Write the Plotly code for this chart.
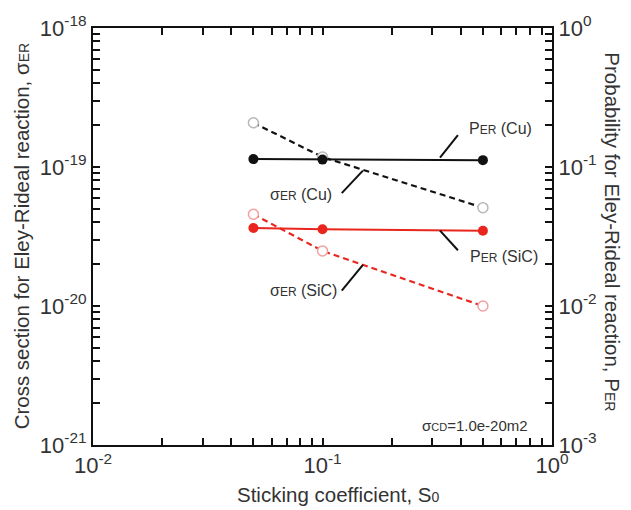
import plotly.graph_objects as go

# Data
s0 = [0.05, 0.1, 0.5]
sigma_cu = [2.08e-19, 1.18e-19, 5.1e-20]
sigma_sic = [4.57e-20, 2.49e-20, 1.0e-20]
p_cu = [0.114, 0.113, 0.112]
p_sic = [0.0364, 0.0357, 0.0348]

x_tickvals = [0.01, 0.1, 1]
x_ticktext = ["10<sup>-2</sup>", "10<sup>-1</sup>", "10<sup>0</sup>"]
y1_tickvals = [1e-21, 1e-20, 1e-19, 1e-18]
y1_ticktext = ["10<sup>-21</sup>", "10<sup>-20</sup>", "10<sup>-19</sup>", "10<sup>-18</sup>"]
y2_tickvals = [1e-3, 1e-2, 1e-1, 1]
y2_ticktext = ["10<sup>-3</sup>", "10<sup>-2</sup>", "10<sup>-1</sup>", "10<sup>0</sup>"]


def with_minor(vals, texts):
    """Major ticks with labels plus unlabelled 2..9 minor ticks in each decade."""
    tv, tt = [], []
    for i, (v, t) in enumerate(zip(vals, texts)):
        tv.append(v)
        tt.append(t)
        if i < len(vals) - 1:
            for k in range(2, 10):
                tv.append(k * v)
                tt.append("")
    return tv, tt


BLACK = "#111111"
RED = "#e8261e"
FONT = "Liberation Sans, Arial, sans-serif"
TXT = "#333333"

fig = go.Figure()

# sigma (left axis), dashed with open markers
fig.add_trace(go.Scatter(x=s0, y=sigma_cu, mode="lines+markers", yaxis="y",
                         line=dict(color=BLACK, width=2.2, dash="6px,4px"),
                         marker=dict(symbol="circle", size=10, color="white",
                                     line=dict(color="#b8b8b8", width=1.5))))
fig.add_trace(go.Scatter(x=s0, y=sigma_sic, mode="lines+markers", yaxis="y",
                         line=dict(color=RED, width=2.2, dash="6px,4px"),
                         marker=dict(symbol="circle", size=10, color="white",
                                     line=dict(color="#f2a0a0", width=1.5))))
# P (right axis), solid with filled markers
fig.add_trace(go.Scatter(x=s0, y=p_cu, mode="lines+markers", yaxis="y2",
                         line=dict(color=BLACK, width=2),
                         marker=dict(symbol="circle", size=10, color=BLACK)))
fig.add_trace(go.Scatter(x=s0, y=p_sic, mode="lines+markers", yaxis="y2",
                         line=dict(color=RED, width=2),
                         marker=dict(symbol="circle", size=10, color=RED)))

tickfont = dict(family=FONT, size=22, color=TXT)
common = dict(ticks="inside", ticklen=7, tickcolor=BLACK, tickwidth=1.6,
              showline=True, linecolor=BLACK, linewidth=2,
              showgrid=False, zeroline=False, tickfont=tickfont)

xtv, xtt = with_minor(x_tickvals, x_ticktext)
y1tv, y1tt = with_minor(y1_tickvals, y1_ticktext)
y2tv, y2tt = with_minor(y2_tickvals, y2_ticktext)

fig.update_layout(
    width=631, height=510,
    margin=dict(l=93, r=79, t=21, b=65),
    plot_bgcolor="white", paper_bgcolor="white",
    showlegend=False,
    font=dict(family=FONT, color=TXT),
    xaxis=dict(type="log", range=[-2, 0], tickmode="array", tickvals=xtv, ticktext=xtt,
               mirror="ticks", **common),
    yaxis=dict(type="log", range=[-21, -18], tickmode="array", tickvals=y1tv, ticktext=y1tt,
               **common),
    yaxis2=dict(type="log", range=[-3, 0], overlaying="y", side="right",
                tickmode="array", tickvals=y2tv, ticktext=y2tt, **common),
)

sm = "<span style='font-size:12px'>"
lab_font = dict(family=FONT, size=16, color=TXT)
annots = [
    ("P" + sm + "ER</span> (Cu)", 0.815, 0.759),
    ("σ" + sm + "ER</span> (Cu)", 0.381, 0.601),
    ("P" + sm + "ER</span> (SiC)", 0.817, 0.453),
    ("σ" + sm + "ER</span> (SiC)", 0.381, 0.370),
]
for text, x, y in annots:
    fig.add_annotation(text=text, x=x, y=y, xref="paper", yref="paper",
                       xanchor="left", yanchor="middle", showarrow=False, font=lab_font)

fig.add_annotation(text="σ<span style='font-size:11px'>CD</span>=1.0e-20m2",
                   x=0.952, y=0.047, xref="paper", yref="paper", xanchor="right",
                   yanchor="middle", showarrow=False, font=dict(family=FONT, size=15, color=TXT))

leaders = [
    (0.795, 0.743, 0.756, 0.689),
    (0.542, 0.604, 0.588, 0.658),
    (0.756, 0.514, 0.795, 0.467),
    (0.542, 0.370, 0.588, 0.432),
]
for x0, y0, x1, y1 in leaders:
    fig.add_shape(type="line", xref="paper", yref="paper", x0=x0, y0=y0, x1=x1, y1=y1,
                  line=dict(color=BLACK, width=2))

title_font = dict(family=FONT, size=20.5, color=TXT)
fig.add_annotation(text="Cross section for Eley-Rideal reaction, σ<span style='font-size:14px'>ER</span>",
                   x=-0.155, y=0.5, xref="paper", yref="paper", textangle=-90,
                   xanchor="center", yanchor="middle", showarrow=False, font=title_font)
fig.add_annotation(text="Probability for Eley-Rideal reaction, P<span style='font-size:14px'>ER</span>",
                   x=1.131, y=0.512, xref="paper", yref="paper", textangle=90,
                   xanchor="center", yanchor="middle", showarrow=False, font=title_font)
fig.add_annotation(text="Sticking coefficient, S<span style='font-size:14px'>0</span>",
                   x=0.534, y=-0.118, xref="paper", yref="paper",
                   xanchor="center", yanchor="middle", showarrow=False, font=title_font)

fig.write_html("out.html")
